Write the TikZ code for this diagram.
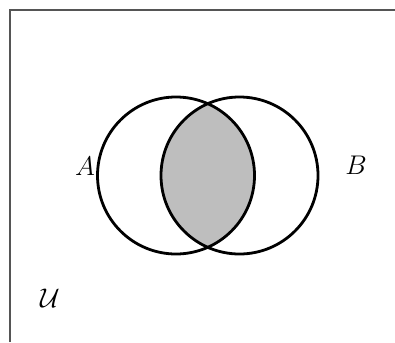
\RequirePackage{fix-cm}
\documentclass[tikz,border=0pt]{standalone}
\usepackage{amsmath,amssymb}
\usetikzlibrary{positioning}
\definecolor{ink}{HTML}{000000}
\definecolor{frameline}{HTML}{555555}
\definecolor{lensgray}{HTML}{BEBEBE}

\begin{document}
\begin{tikzpicture}[x=1pt,y=-1pt,
  setline/.style={draw=ink,line width=2.8pt},
  setlabel/.style={font=\fontsize{27}{32}\selectfont,inner sep=0pt}]
  \useasboundingbox (0,0) rectangle (395,342);
  % universe frame, open at bottom and right
  \coordinate (ul) at (10,10);
  \draw[frameline,line width=1.2pt] (10,342) -- (ul) -- (395,10);
  % set centres
  \coordinate (ca) at (176,175.5);
  \coordinate (cb) at (239.5,175.5);
  \begin{scope}
    \clip (ca) circle (78.5);
    \fill[lensgray] (cb) circle (78.5);
  \end{scope}
  \draw[setline] (ca) circle (78.5);
  \draw[setline] (cb) circle (78.5);
  \node[setlabel] (labA) at (85,166) {$A$};
  \node[setlabel] (labB) at (356,165) {$B$};
  \node[setlabel] (labU) at (50,298) {$\mathcal{U}$};
\end{tikzpicture}
\end{document}
